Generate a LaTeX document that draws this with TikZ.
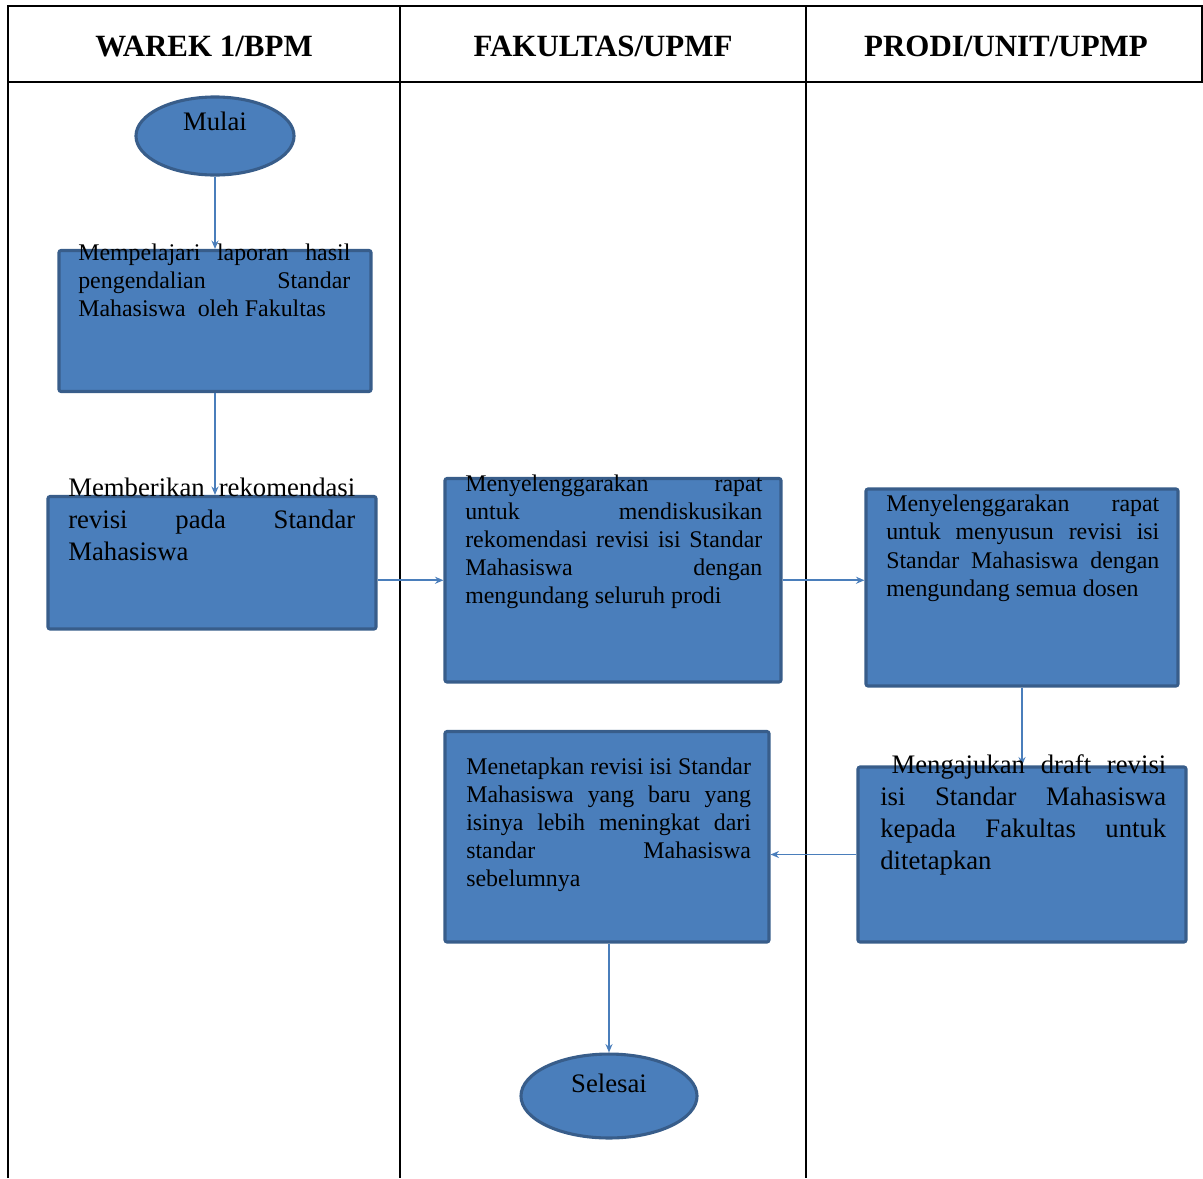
\documentclass[tikz,border=0pt]{standalone}
\usepackage{fontspec}
\setmainfont{Liberation Serif}
\usetikzlibrary{positioning,fit,shapes.geometric,arrows.meta}
\definecolor{boxfill}{HTML}{4A7EBB}
\definecolor{boxline}{HTML}{385D8A}
\definecolor{flowline}{HTML}{4A7EBB}
\hyphenpenalty=10000
\exhyphenpenalty=10000
\tolerance=10000
\hbadness=10000

\begin{document}
\begin{tikzpicture}[
    x=0.025cm, y=-0.025cm,
    rule/.style={line width=1.6pt, black},
    head/.style={font=\bfseries\fontsize{22}{26}\selectfont, anchor=base, inner sep=0pt},
    stepbox/.style={draw=boxline, fill=boxfill, line width=2.2pt, rounded corners=1.5pt, inner sep=0pt},
    term/.style={ellipse, draw=boxline, fill=boxfill, line width=2.2pt, inner sep=0pt},
    txt/.style={anchor=north west, inner sep=0pt, align=justify, font=\fontsize{17}{20}\selectfont},
    bigtxt/.style={txt, font=\fontsize{19}{22.8}\selectfont},
    lbl/.style={anchor=base, inner sep=0pt, font=\fontsize{19}{22}\selectfont},
    fl/.style={draw=flowline, line width=1.1pt, -{Stealth[length=6pt,width=5pt]}},
]
    \useasboundingbox (0,0) rectangle (1203,1178);
    % lanes
    \draw[rule] (8,1178) -- (8,6) -- (1202,6) -- (1202,82);
    \draw[rule] (8,82) -- (1203,82);
    \draw[rule] (400,6) -- (400,1178);
    \draw[rule] (806,6) -- (806,1178);
    \node[head] (h1) at (204,56) {WAREK 1/BPM};
    \node[head] (h2) at (603,56) {FAKULTAS/UPMF};
    \node[head] (h3) at (1006,56) {PRODI/UNIT/UPMP};
    % shapes
    \node[term, minimum width=112.4pt, minimum height=55.5pt] (m) at (215,136) {};
    \node[stepbox, fit={(59,250.5) (371,391.5)}] (b1) {};
    \node[stepbox, fit={(48,496.5) (376,629)}] (b2) {};
    \node[stepbox, fit={(445,478.5) (781,682)}] (b3) {};
    \node[stepbox, fit={(866,489) (1178,686)}] (b4) {};
    \node[stepbox, fit={(858,767) (1186,942)}] (b5) {};
    \node[stepbox, fit={(445,731.5) (769,942)}] (b6) {};
    \node[term, minimum width=125.2pt, minimum height=59.7pt] (s) at (609,1096) {};
    % flow
    \draw[fl] (m) -- (b1);
    \draw[fl] (b1.south) -- (b1.south |- b2.north);
    \draw[fl] (b2.east |- b3.west) -- (b3.west);
    \draw[fl] (b3.east) -- (b3.east -| b4.west);
    \draw[fl] (b4) -- (b5);
    \draw[fl] (b5.west) -- (b5.west -| b6.east);
    \draw[fl] (s.north |- b6.south) -- (s.north);
    % texts
    \node[lbl] (mt) at (215,130) {Mulai};
    \node[lbl] (st) at (609,1092) {Selesai};
    \node[txt, text width=193.5pt] (t1) at (78,240.3) {\strut Mempelajari laporan hasil\linebreak pengendalian Standar\linebreak Mahasiswa\ \ oleh Fakultas};
    \node[bigtxt, text width=204.1pt] (t2) at (68,473.6) {\strut Memberikan rekomendasi\linebreak revisi pada Standar\linebreak Mahasiswa};
    \node[txt, text width=211.3pt] (t3) at (465,471.3) {\strut Menyelenggarakan rapat\linebreak untuk mendiskusikan\linebreak rekomendasi revisi isi Standar\linebreak Mahasiswa dengan\linebreak mengundang seluruh prodi};
    \node[txt, text width=194.2pt] (t4) at (886,491.8) {\strut Menyelenggarakan rapat\linebreak untuk menyusun revisi isi\linebreak Standar Mahasiswa dengan\linebreak mengundang semua dosen};
    \node[bigtxt, text width=203.4pt] (t5) at (880,750.6) {\strut\hspace*{8pt}Mengajukan draft revisi\linebreak isi Standar Mahasiswa\linebreak kepada Fakultas untuk\linebreak ditetapkan};
    \node[txt, text width=202.5pt] (t6) at (466,754.3) {\strut Menetapkan revisi isi Standar\linebreak Mahasiswa yang baru yang\linebreak isinya lebih meningkat dari\linebreak standar Mahasiswa\linebreak sebelumnya};
\end{tikzpicture}
\end{document}
